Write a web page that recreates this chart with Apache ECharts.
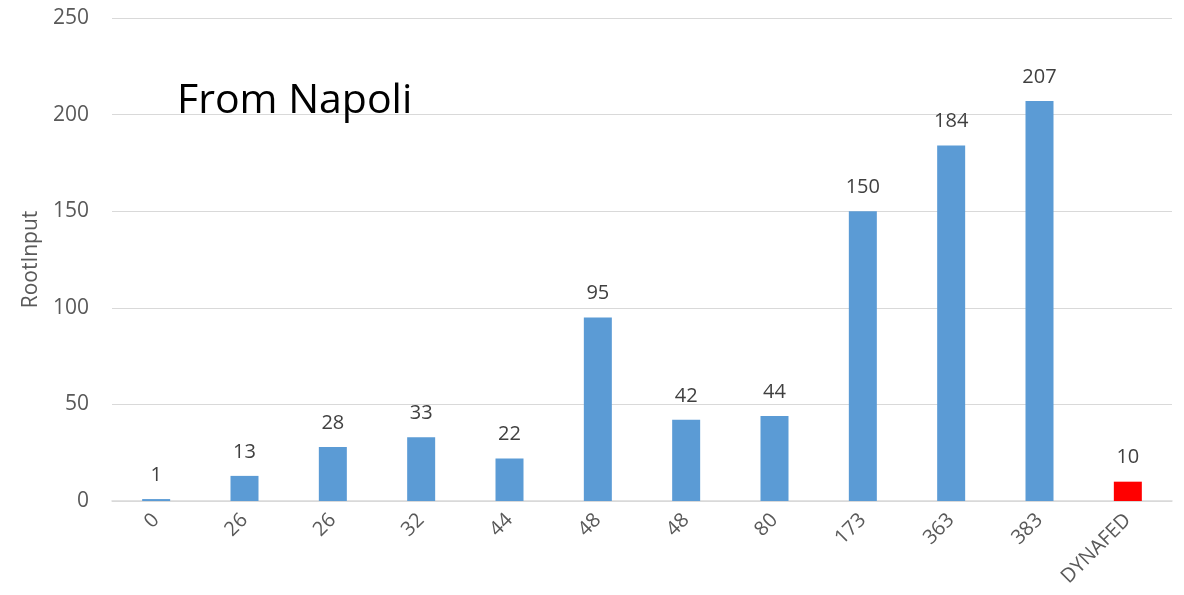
<!DOCTYPE html>
<html>
<head>
<meta charset="utf-8">
<script src="https://cdn.jsdelivr.net/npm/echarts@6/dist/echarts.min.js"></script>
<style>html,body{margin:0;padding:0;background:#fff;}#c{width:1184px;height:595px;}</style>
</head>
<body>
<div id="c"></div>
<script>
const categories = ['0','26','26','32','44','48','48','80','173','363','383','DYNAFED'];
const values = [1,13,28,33,22,95,42,44,150,184,207,10];
const barColors = ['#5B9BD5','#5B9BD5','#5B9BD5','#5B9BD5','#5B9BD5','#5B9BD5','#5B9BD5','#5B9BD5','#5B9BD5','#5B9BD5','#5B9BD5','#FF0000'];
const yTicks = {min: 0, max: 250, interval: 50};
const titleText = 'From Napoli';
const yName = 'RootInput';

const font = '"Open Sans", "Noto Sans", sans-serif';
const chart = echarts.init(document.getElementById('c'), null, {renderer: 'canvas'});
chart.setOption({
  animation: false,
  backgroundColor: '#fff',
  title: {
    text: titleText, left: 172, top: 76,
    textStyle: {fontFamily: font, fontSize: 41, fontWeight: 'normal', color: '#000'}
  },
  grid: {left: 112, right: 12, top: 18, bottom: 94, containLabel: false},
  xAxis: {
    type: 'category', data: categories,
    axisLine: {lineStyle: {color: '#d9d9d9', width: 1.5}},
    axisTick: {show: false},
    axisLabel: {rotate: 45, color: '#595959', fontSize: 20, fontFamily: font, margin: 16, interval: 0}
  },
  yAxis: {
    type: 'value', min: yTicks.min, max: yTicks.max, interval: yTicks.interval,
    name: yName, nameLocation: 'middle', nameGap: 70,
    nameTextStyle: {color: '#595959', fontSize: 21, fontFamily: font},
    axisLine: {show: false}, axisTick: {show: false},
    axisLabel: {color: '#595959', fontSize: 21, fontFamily: font, margin: 23},
    splitLine: {lineStyle: {color: '#d9d9d9', width: 1}}
  },
  series: [{
    type: 'bar', barWidth: 28,
    data: values.map((v, i) => ({value: v, itemStyle: {color: barColors[i]}})),
    label: {show: true, position: 'top', distance: 14, color: '#404040', fontSize: 20, fontFamily: font}
  }]
});
</script>
</body>
</html>
